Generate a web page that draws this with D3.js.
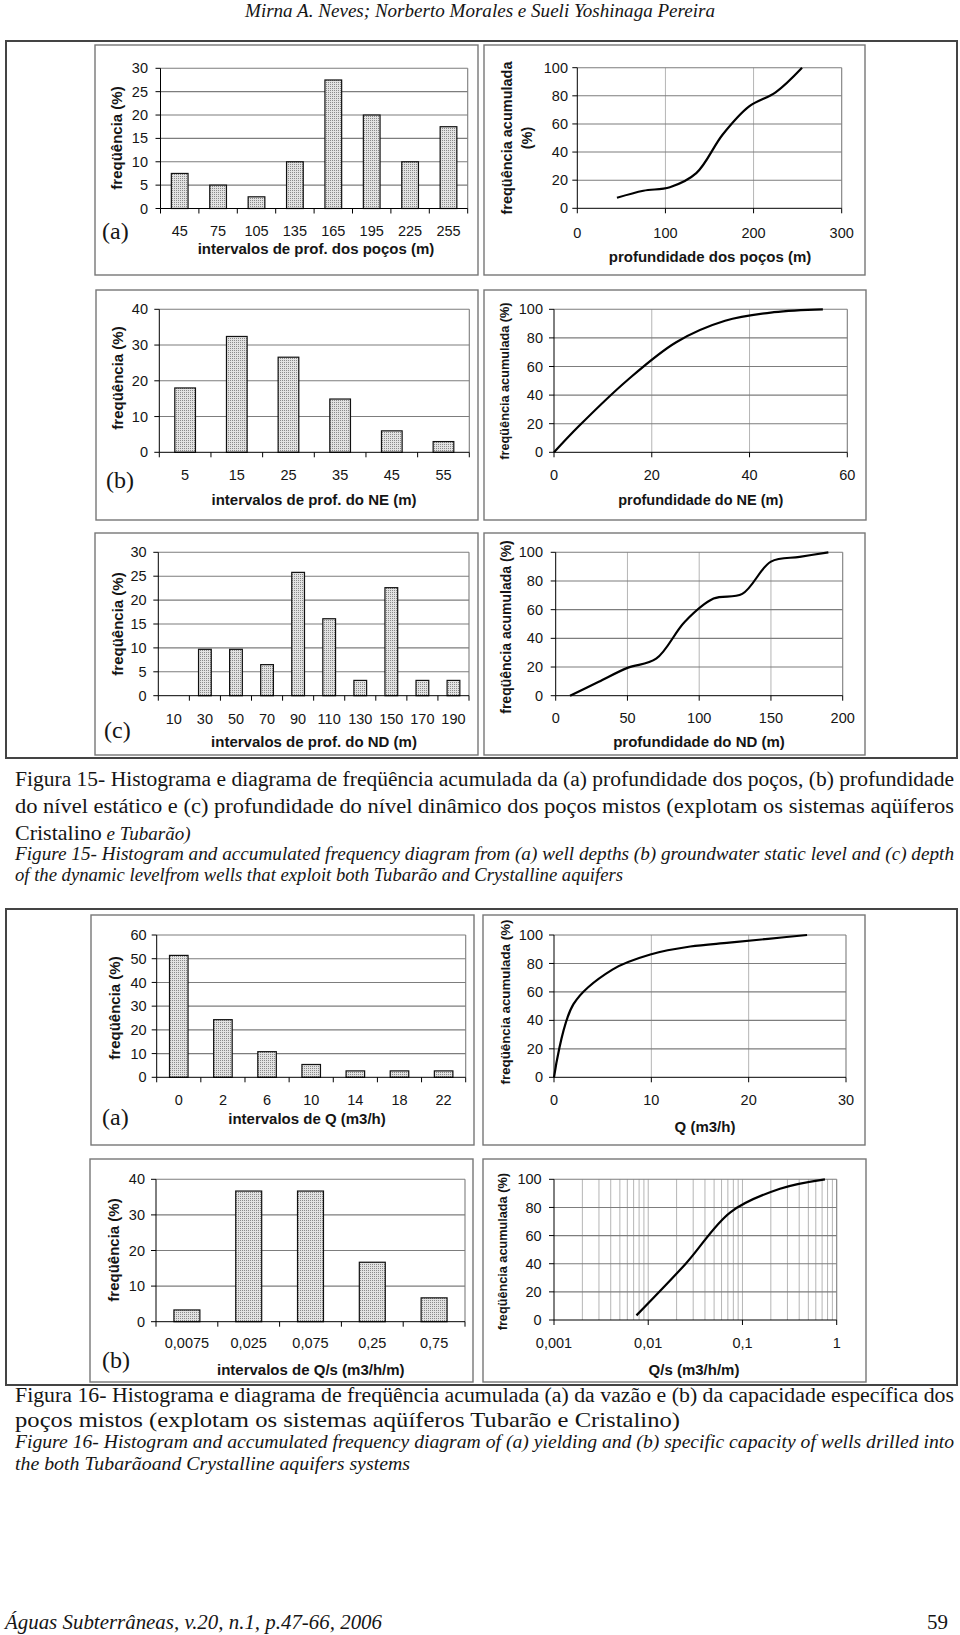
<!DOCTYPE html>
<html><head><meta charset="utf-8">
<script src="https://cdn.jsdelivr.net/npm/d3@7"></script>
<style>body{margin:0;background:#fff}svg{display:block}</style>
</head><body>
<script>
// ---------- DATA ----------
const pocosCats=["45","75","105","135","165","195","225","255"];
const pocosFreq=[7.5,5,2.5,10,27.5,20,10,17.5];
const pocosDepth=[45,75,105,135,165,195,225,255];
const pocosCum=[7.5,12.5,15,25,52.5,72.5,82.5,100];

const neCats=["5","15","25","35","45","55"];
const neFreq=[18,32.4,26.6,14.9,6,3];
const neDepth=[0,5,15,25,35,45,55];
const neCum=[0,18,50.4,77,92,98,100];

const ndCats=["10","30","50","70","90","110","130","150","170","190"];
const ndFreq=[0,9.7,9.7,6.5,25.8,16.1,3.2,22.6,3.2,3.2];
const ndDepth=[10,30,50,70,90,110,130,150,170,190];
const ndCum=[0,9.7,19.4,25.8,51.6,67.7,71,93.5,96.8,100];

const qCats=["0","2","6","10","14","18","22"];
const qFreq=[51.4,24.3,10.8,5.4,2.7,2.7,2.7];
const qVals=[0,2,6,10,14,18,22,26];
const qCum=[0,51.4,75.7,86.5,91.9,94.6,97.3,100];

const qsCats=["0,0075","0,025","0,075","0,25","0,75"];
const qsFreq=[3.3,36.7,36.7,16.7,6.7];
const qsVals=[0.0075,0.025,0.075,0.25,0.75];
const qsCum=[3.3,40,76.7,93.3,100];

const ticks30=[0,5,10,15,20,25,30];
const ticks40=[0,10,20,30,40];
const ticks60=[0,10,20,30,40,50,60];
const ticks100=[0,20,40,60,80,100];
const xTicksPocos=[0,100,200,300];
const xTicksNE=[0,20,40,60];
const xTicksND=[0,50,100,150,200];
const xTicksQ=[0,10,20,30];
const xTicksQs=[0.001,0.01,0.1,1];
const xTickLabelsQs=["0,001","0,01","0,1","1"];

const headerText="Mirna A. Neves; Norberto Morales e Sueli Yoshinaga Pereira";
const cap15=[
 "Figura 15- Histograma e diagrama de freqüência acumulada da (a) profundidade dos poços, (b) profundidade",
 "do nível estático e (c) profundidade do nível dinâmico dos poços mistos (explotam os sistemas aqüíferos",
 "Cristalino", " e Tubarão)",
 "Figure 15- Histogram and accumulated frequency diagram from (a) well depths (b) groundwater static level and (c) depth",
 "of the dynamic levelfrom wells that exploit both Tubarão and Crystalline aquifers"
];
const cap16=[
 "Figura 16- Histograma e diagrama de freqüência acumulada (a) da vazão e (b) da capacidade específica dos",
 "poços mistos (explotam os sistemas aqüíferos Tubarão e Cristalino)",
 "Figure 16- Histogram and accumulated frequency diagram of (a) yielding and (b) specific capacity of wells drilled into",
 "the both Tubarãoand Crystalline aquifers systems"
];
const footerText="Águas Subterrâneas, v.20, n.1, p.47-66, 2006";
const pageNum="59";

// ---------- DRAW ----------
const SANS="'Liberation Sans', Arial, sans-serif";
const SERIF="'Liberation Serif', 'Times New Roman', serif";
const svg=d3.select("body").append("svg").attr("width",960).attr("height",1635);
const defs=svg.append("defs");
const pat=defs.append("pattern").attr("id","dots").attr("width",2).attr("height",2).attr("patternUnits","userSpaceOnUse");
pat.append("rect").attr("width",2).attr("height",2).attr("fill","#e2e2e2");
pat.append("rect").attr("width",1).attr("height",1).attr("fill","#8a8a8a");

function rect(x0,y0,x1,y1,stroke,sw){
  svg.append("rect").attr("x",x0).attr("y",y0).attr("width",x1-x0).attr("height",y1-y0)
    .attr("fill","none").attr("stroke",stroke).attr("stroke-width",sw);
}
function txt(g,x,y,s,o={}){
  const t=g.append("text").attr("x",x).attr("y",y).text(s)
    .attr("font-family",o.family||SANS).attr("font-size",o.size||14.5)
    .attr("font-weight",o.bold?"bold":"normal").attr("fill","#151515")
    .attr("text-anchor",o.anchor||"middle").attr("dy",o.dy===undefined?"0.35em":o.dy);
  if(o.italic) t.attr("font-style","italic");
  if(o.rot) t.attr("transform",`rotate(-90,${x},${y})`);
  return t;
}
const GRID="#7d7d7d", VGRID="#b5b5b5";

function hist(o){
  const g=svg.append("g");
  const x=d3.scaleBand().domain(o.cats).range([o.px0,o.px1]);
  const y=d3.scaleLinear().domain([0,o.yMax]).range([o.py1,o.py0]);
  g.selectAll("line.h").data(o.yTicks.filter(t=>t>0)).join("line")
    .attr("x1",o.px0).attr("x2",o.px1).attr("y1",d=>y(d)).attr("y2",d=>y(d))
    .attr("stroke",GRID).attr("stroke-width",1.1);
  g.append("line").attr("x1",o.px1).attr("x2",o.px1).attr("y1",o.py0).attr("y2",o.py1).attr("stroke",GRID).attr("stroke-width",1.1);
  const bw=x.bandwidth()*o.barFrac;
  const data=o.cats.map((c,i)=>({c,v:o.vals[i]})).filter(d=>d.v>0);
  g.selectAll("rect.bar").data(data).join("rect")
    .attr("x",d=>x(d.c)+(x.bandwidth()-bw)/2).attr("y",d=>y(d.v))
    .attr("width",bw).attr("height",d=>y(0)-y(d.v))
    .attr("fill","url(#dots)").attr("stroke","#111").attr("stroke-width",1.2);
  g.append("line").attr("x1",o.px0).attr("x2",o.px0).attr("y1",o.py0).attr("y2",o.py1).attr("stroke","#000");
  g.append("line").attr("x1",o.px0).attr("x2",o.px1).attr("y1",o.py1).attr("y2",o.py1).attr("stroke","#000");
  g.selectAll("line.yt").data(o.yTicks).join("line")
    .attr("x1",o.px0-5).attr("x2",o.px0).attr("y1",d=>y(d)).attr("y2",d=>y(d)).attr("stroke","#000");
  const bounds=o.cats.map(c=>x(c)).concat([o.px1]);
  g.selectAll("line.xt").data(bounds).join("line")
    .attr("x1",d=>d).attr("x2",d=>d).attr("y1",o.py1).attr("y2",o.py1+5).attr("stroke","#000");
  o.yTicks.forEach(t=>txt(g,o.yLabR,y(t),String(t),{anchor:"end"}));
  o.cats.forEach(c=>txt(g,x(c)+x.bandwidth()/2,o.xLabY,c));
  txt(g,o.titleX,o.titleY,o.title,{bold:true,size:o.titleSize||15});
  txt(g,o.ytX,o.ytY,"freqüência (%)",{bold:true,size:o.ytSize||15,rot:true});
  txt(g,o.tagX,o.tagY,o.tag,{family:SERIF,size:24,anchor:"start"});
}

function lineChart(o){
  const g=svg.append("g");
  const x=(o.log?d3.scaleLog():d3.scaleLinear()).domain(o.xDom).range([o.px0,o.px1]);
  const y=d3.scaleLinear().domain([0,100]).range([o.py1,o.py0]);
  let vg;
  if(o.log){
    vg=[];
    [-3,-2,-1].forEach(k=>{for(let m=1;m<=9;m++){const v=m*Math.pow(10,k); if(v>o.xDom[0]*1.0001) vg.push(v);}});
  } else vg=o.xTicks.filter(t=>t>o.xDom[0]&&t<o.xDom[1]);
  g.selectAll("line.v").data(vg).join("line")
    .attr("x1",d=>x(d)).attr("x2",d=>x(d)).attr("y1",o.py0).attr("y2",o.py1)
    .attr("stroke",VGRID).attr("stroke-width",1);
  g.selectAll("line.h").data(ticks100.filter(t=>t>0)).join("line")
    .attr("x1",o.px0).attr("x2",o.px1).attr("y1",d=>y(d)).attr("y2",d=>y(d))
    .attr("stroke",GRID).attr("stroke-width",1.1);
  g.append("line").attr("x1",o.px1).attr("x2",o.px1).attr("y1",o.py0).attr("y2",o.py1).attr("stroke",GRID).attr("stroke-width",1.1);
  g.append("line").attr("x1",o.px0).attr("x2",o.px0).attr("y1",o.py0).attr("y2",o.py1).attr("stroke","#000");
  g.append("line").attr("x1",o.px0).attr("x2",o.px1).attr("y1",o.py1).attr("y2",o.py1).attr("stroke","#000");
  g.selectAll("line.yt").data(ticks100).join("line")
    .attr("x1",o.px0-5).attr("x2",o.px0).attr("y1",d=>y(d)).attr("y2",d=>y(d)).attr("stroke","#000");
  g.selectAll("line.xt").data(o.xTicks).join("line")
    .attr("x1",d=>x(d)).attr("x2",d=>x(d)).attr("y1",o.py1).attr("y2",o.py1+5).attr("stroke","#000");
  const pts=o.xs.map((v,i)=>[v,o.ys[i]]);
  g.append("path").attr("d",d3.line().x(d=>x(d[0])).y(d=>y(d[1])).curve(d3.curveCatmullRom.alpha(0.5))(pts))
    .attr("fill","none").attr("stroke","#000").attr("stroke-width",2.2);
  ticks100.forEach(t=>txt(g,o.yLabR,y(t),String(t),{anchor:"end"}));
  o.xTicks.forEach((t,i)=>txt(g,x(t),o.xLabY,o.xLabels?o.xLabels[i]:String(t)));
  txt(g,o.titleX,o.titleY,o.title,{bold:true,size:o.titleSize||15});
  if(o.ytLines){
    o.ytLines.forEach((l,i)=>txt(g,o.ytX[i],o.ytY,l,{bold:true,size:o.ytSize,rot:true}));
  } else txt(g,o.ytX,o.ytY,"freqüência acumulada (%)",{bold:true,size:o.ytSize,rot:true});
}

// header
txt(svg,480,11,headerText,{family:SERIF,size:18,italic:true}).attr("textLength",470).attr("lengthAdjust","spacingAndGlyphs");

// ---- Figure 15 ----
rect(6,41,957,758,"#444",2);
rect(95,45,478,275,"#777",1.4); rect(484,45,865,275,"#777",1.4);
rect(96,290,478,520,"#777",1.4); rect(484,290,866,520,"#777",1.4);
rect(95,533,478,755,"#777",1.4); rect(484,533,865,755,"#777",1.4);

hist({cats:pocosCats,vals:pocosFreq,px0:160.5,px1:467.7,py0:68.3,py1:208.5,yMax:30,yTicks:ticks30,barFrac:0.435,
  yLabR:148,xLabY:231,tag:"(a)",tagX:102,tagY:231,title:"intervalos de prof. dos poços (m)",titleX:316,titleY:248.5,ytX:117,ytY:138});
lineChart({xDom:[0,300],xTicks:xTicksPocos,xs:pocosDepth,ys:pocosCum,px0:577.3,px1:841.7,py0:67.7,py1:208.3,
  yLabR:568,xLabY:232.5,title:"profundidade dos poços (m)",titleX:710,titleY:256.5,ytLines:["freqüência acumulada","(%)"],ytX:[506.5,526.5],ytY:138,ytSize:14.5});

hist({cats:neCats,vals:neFreq,px0:159.3,px1:469.3,py0:309.3,py1:452.3,yMax:40,yTicks:ticks40,barFrac:0.4,
  yLabR:148,xLabY:475,tag:"(b)",tagX:106,tagY:480,title:"intervalos de prof. do NE (m)",titleX:314,titleY:500,ytX:117.3,ytY:378});
lineChart({xDom:[0,60],xTicks:xTicksNE,xs:neDepth,ys:neCum,px0:554,px1:847.3,py0:309.3,py1:452.3,
  yLabR:543,xLabY:475,title:"profundidade do NE (m)",titleX:700.7,titleY:500,titleSize:14.5,ytX:505,ytY:381,ytSize:12.7});

hist({cats:ndCats,vals:ndFreq,px0:158.3,px1:469,py0:552.3,py1:695.7,yMax:30,yTicks:ticks30,barFrac:0.41,
  yLabR:146.7,xLabY:719,tag:"(c)",tagX:104,tagY:730,title:"intervalos de prof. do ND (m)",titleX:314,titleY:741.7,ytX:117.3,ytY:624});
lineChart({xDom:[0,200],xTicks:xTicksND,xs:ndDepth,ys:ndCum,px0:555.7,px1:842.7,py0:552.3,py1:695.7,
  yLabR:543,xLabY:718,title:"profundidade do ND (m)",titleX:699,titleY:741.7,ytX:506,ytY:627,ytSize:14});

// captions 15
const capG=svg.append("g");
function capLine(s,y,x1,opts,adj){
  const t=txt(capG,15,y,s,Object.assign({family:SERIF,anchor:"start",dy:0},opts));
  if(x1) t.attr("textLength",x1-15).attr("lengthAdjust",adj||"spacingAndGlyphs");
  return t;
}
capLine(cap15[0],786,954,{size:21.3});
capLine(cap15[1],813,954,{size:21.3});
const l3=capG.append("text").attr("x",15).attr("y",840).attr("font-family",SERIF).attr("fill","#151515");
l3.append("tspan").attr("font-size",22).text(cap15[2]);
l3.append("tspan").attr("font-size",19).attr("font-style","italic").text(cap15[3]);
capLine(cap15[4],860,954,{size:18.8,italic:true});
capLine(cap15[5],881,623,{size:18.8,italic:true});

// ---- Figure 16 ----
rect(6,909,957,1385,"#444",2);
rect(91,915,474,1145,"#777",1.4); rect(483,915,865,1145,"#777",1.4);
rect(90,1159,473,1382,"#777",1.4); rect(483,1159,866,1382,"#777",1.4);

hist({cats:qCats,vals:qFreq,px0:156.7,px1:465.7,py0:935,py1:1077.3,yMax:60,yTicks:ticks60,barFrac:0.42,
  yLabR:146.7,xLabY:1100,tag:"(a)",tagX:102,tagY:1116.7,title:"intervalos de Q (m3/h)",titleX:307,titleY:1118.3,ytX:115,ytY:1008});
lineChart({xDom:[0,30],xTicks:xTicksQ,xs:qVals,ys:qCum,px0:554,px1:846,py0:935,py1:1077.3,
  yLabR:543,xLabY:1100,title:"Q (m3/h)",titleX:705,titleY:1126.7,ytX:505,ytY:1002,ytSize:13.3});

hist({cats:qsCats,vals:qsFreq,px0:156,px1:465,py0:1179.3,py1:1321.7,yMax:40,yTicks:ticks40,barFrac:0.42,
  yLabR:145,xLabY:1343.3,tag:"(b)",tagX:102,tagY:1360,title:"intervalos de Q/s (m3/h/m)",titleX:310.8,titleY:1370,ytX:113.3,ytY:1250});
lineChart({log:true,xDom:[0.001,1],xTicks:xTicksQs,xLabels:xTickLabelsQs,xs:qsVals,ys:qsCum,px0:554,px1:836.7,py0:1179.3,py1:1320,
  yLabR:541.7,xLabY:1342.7,title:"Q/s (m3/h/m)",titleX:694,titleY:1369.3,ytX:502.7,ytY:1251.7,ytSize:12.7});

capLine(cap16[0],1402,954,{size:21.3});
capLine(cap16[1],1427,680,{size:21.8});
capLine(cap16[2],1448,954,{size:18.8,italic:true});
capLine(cap16[3],1470,410,{size:19.5,italic:true});

// footer
txt(svg,5,1629,footerText,{family:SERIF,size:20,italic:true,anchor:"start",dy:0}).attr("textLength",377).attr("lengthAdjust","spacingAndGlyphs");
txt(svg,948,1629,pageNum,{family:SERIF,size:21,anchor:"end",dy:0});
</script>
</body></html>
